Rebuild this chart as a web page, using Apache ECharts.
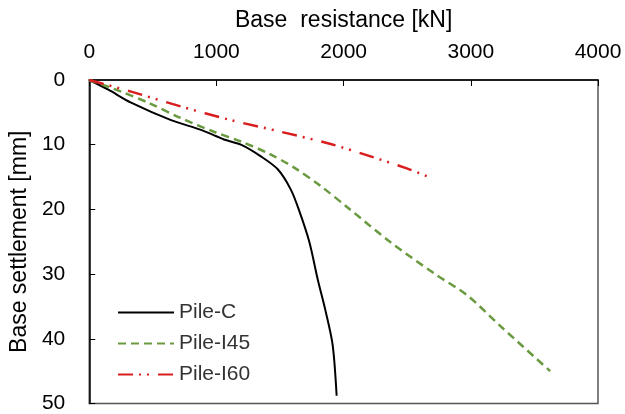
<!DOCTYPE html>
<html><head><meta charset="utf-8">
<script src="https://cdn.jsdelivr.net/npm/echarts@6/dist/echarts.min.js"></script>
<style>html,body{margin:0;padding:0;background:#fff}#c{width:625px;height:414px}</style>
</head><body><div id="c"></div>
<script>
var xTicks = [0, 1000, 2000, 3000, 4000];
var yTicks = [0, 10, 20, 30, 40, 50];
var pileC = [[0,0],[150,1.5],[329,3.5],[643,6.2],[878,7.7],[1000,8.7],[1059,9.2],[1192,10],[1349,11.8],[1482,13.8],[1584,16.9],[1647,20],[1730,25],[1796,30.8],[1859,35.8],[1914,41],[1945,48.8]];
var pileI45 = [[0,0],[251,1.8],[463,3.5],[722,5.9],[980,8],[1192,9.5],[1404,11.3],[1608,13.5],[1820,16.4],[2031,19.7],[2364,25],[2719,30],[2973,33.3],[3231,38],[3624,45]];
var pileI60 = [[0,0],[329,1.8],[722,4.1],[1114,6.2],[1506,8],[1898,9.9],[2212,11.8],[2502,13.7],[2659,14.9]];
var font = 'Liberation Sans, Arial, sans-serif';
var chart = echarts.init(document.getElementById('c'));
chart.setOption({
  animation: false,
  grid: {left: 88, top: 80, width: 510, height: 324, show: true, borderColor: '#555', borderWidth: 1.5, backgroundColor: 'transparent'},
  legend: {
    left: 112, top: 297, orient: 'vertical', itemGap: 10, itemWidth: 56, itemHeight: 20,
    itemStyle: {opacity: 0},
    textStyle: {fontFamily: font, fontSize: 21, color: '#333'},
    data: ['Pile-C', 'Pile-I45', 'Pile-I60']
  },
  xAxis: {
    type: 'value', position: 'top', min: 0, max: 4000, interval: 1000,
    name: 'Base  resistance [kN]', nameLocation: 'middle', nameGap: 48,
    nameTextStyle: {fontFamily: font, fontSize: 23, color: '#000'},
    axisLine: {show: true, lineStyle: {color: '#000', width: 1.5}},
    axisTick: {show: true, inside: true, length: 6, lineStyle: {color: '#000'}},
    axisLabel: {fontFamily: font, fontSize: 21, color: '#000', margin: 17, formatter: function(v){return xTicks.indexOf(v) >= 0 ? String(v) : '';}},
    splitLine: {show: false}
  },
  yAxis: {
    type: 'value', inverse: true, min: 0, max: 50, interval: 10,
    name: 'Base settlement [mm]', nameLocation: 'middle', nameGap: 53,
    nameTextStyle: {fontFamily: font, fontSize: 23, color: '#000'},
    axisLine: {show: true, lineStyle: {color: '#000', width: 1.5}},
    axisTick: {show: true, inside: true, length: 6, lineStyle: {color: '#000'}},
    axisLabel: {fontFamily: font, fontSize: 21, color: '#000', margin: 24, formatter: function(v){return yTicks.indexOf(v) >= 0 ? String(v) : '';}},
    splitLine: {show: false}
  },
  series: [
    {name: 'Pile-C', type: 'line', data: pileC, smooth: 0.3, showSymbol: false, symbol: 'none',
     lineStyle: {color: '#000', width: 2}, itemStyle: {color: '#000'}},
    {name: 'Pile-I45', type: 'line', data: pileI45, smooth: 0.3, showSymbol: false, symbol: 'none',
     lineStyle: {color: '#6a9a3f', width: 2.5, type: [8, 5]}, itemStyle: {color: '#6a9a3f'}},
    {name: 'Pile-I60', type: 'line', data: pileI60, smooth: 0.3, showSymbol: false, symbol: 'none',
     lineStyle: {color: '#d81e1e', width: 2.5, type: [15, 6, 2, 6, 2, 9]}, itemStyle: {color: '#d81e1e'}}
  ]
});
</script></body></html>
